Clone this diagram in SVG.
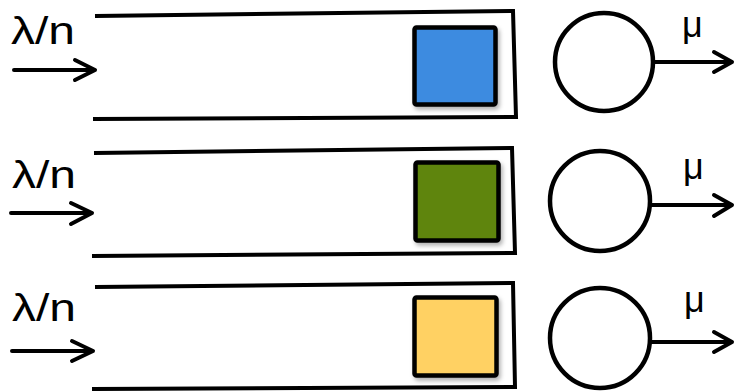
<svg xmlns="http://www.w3.org/2000/svg" width="735" height="392" viewBox="0 0 735 392">
<style>
.q{fill:none;stroke:#000;stroke-width:4;stroke-linejoin:miter}
.job{stroke:#000;stroke-width:4.5}
.srv{fill:#fff;stroke:#000;stroke-width:4.5}
.arr{fill:none;stroke:#000;stroke-width:4;stroke-linecap:round;stroke-linejoin:round}
.lam{font-family:"Liberation Sans",Arial,sans-serif;font-size:39px;fill:#000}
.mu{font-family:"Liberation Sans",Arial,sans-serif;font-size:36px;fill:#000}
</style>
<defs>
<filter id="sh" x="-20%" y="-20%" width="150%" height="150%">
<feDropShadow dx="2" dy="3" stdDeviation="2" flood-color="#000" flood-opacity="0.3"/>
</filter>
</defs>
<rect width="735" height="392" fill="#fff"/>

<g id="queue1"><path class="q" d="M95,16 L513,11 L516,117 L93,119"/></g>
<g id="job1"><rect class="job" x="414.5" y="27.5" width="81" height="77" rx="2" fill="#3D8BE0" filter="url(#sh)"/></g>
<g id="server1"><circle class="srv" cx="604" cy="62" r="49"/></g>

<g id="queue2"><path class="q" d="M94,153 L512,148 L515,253 L92,256"/></g>
<g id="job2"><rect class="job" x="415.5" y="162.5" width="83" height="78" rx="2" fill="#5F8507" filter="url(#sh)"/></g>
<g id="server2"><circle class="srv" cx="600" cy="201" r="50"/></g>

<g id="queue3"><path class="q" d="M95,287 L513,283 L515,387 L92,389"/></g>
<g id="job3"><rect class="job" x="414.5" y="297.5" width="82" height="78" rx="2" fill="#FFD163" filter="url(#sh)"/></g>
<g id="server3"><circle class="srv" cx="600" cy="338" r="50"/></g>

<g id="connectors">
<path class="arr" d="M14,70 L95,70 M75,60 L95,70 L75,80"/>
<path class="arr" d="M11,213 L92,213 M71,203 L92,213 L71,224"/>
<path class="arr" d="M12,351 L93,351 M72,341 L93,351 L72,361"/>
<path class="arr" d="M653,62 L732,62 M714,52 L732,62 L714,72"/>
<path class="arr" d="M650,205 L732,205 M714,195 L732,205 L714,216"/>
<path class="arr" d="M650,342 L732,342 M714,332 L732,342 L714,352"/>
</g>

<g id="labels">
<text class="lam" x="11" y="44" textLength="64" lengthAdjust="spacingAndGlyphs">λ/n</text>
<text class="lam" x="12" y="188" textLength="64" lengthAdjust="spacingAndGlyphs">λ/n</text>
<text class="lam" x="12" y="321" textLength="64" lengthAdjust="spacingAndGlyphs">λ/n</text>
<text class="mu" x="682" y="37">μ</text>
<text class="mu" x="683" y="179">μ</text>
<text class="mu" x="684" y="312">μ</text>
</g>
</svg>
